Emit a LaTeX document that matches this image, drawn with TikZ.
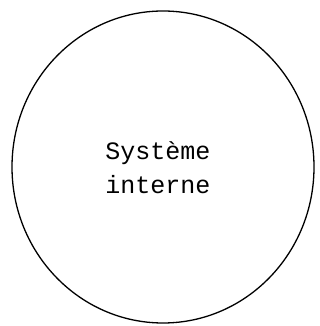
\documentclass[tikz,border=0pt]{standalone}
\usepackage{fontspec}
\setmonofont{Liberation Mono}
\usetikzlibrary{shapes.geometric}

\begin{document}
\begin{tikzpicture}[
  x=1pt, y=1pt,
  boundary/.style={draw, line width=1.3pt, ellipse, minimum width=302pt, minimum height=312pt, inner sep=0pt},
  label/.style={font=\ttfamily\fontsize{25}{34}\selectfont, align=center}
]
\useasboundingbox (0,0) rectangle (320,326);
\node[boundary] (systeme) at (163,159) {};
\node[label] (nom) at (158,158) {Système\\interne};
\end{tikzpicture}
\end{document}
